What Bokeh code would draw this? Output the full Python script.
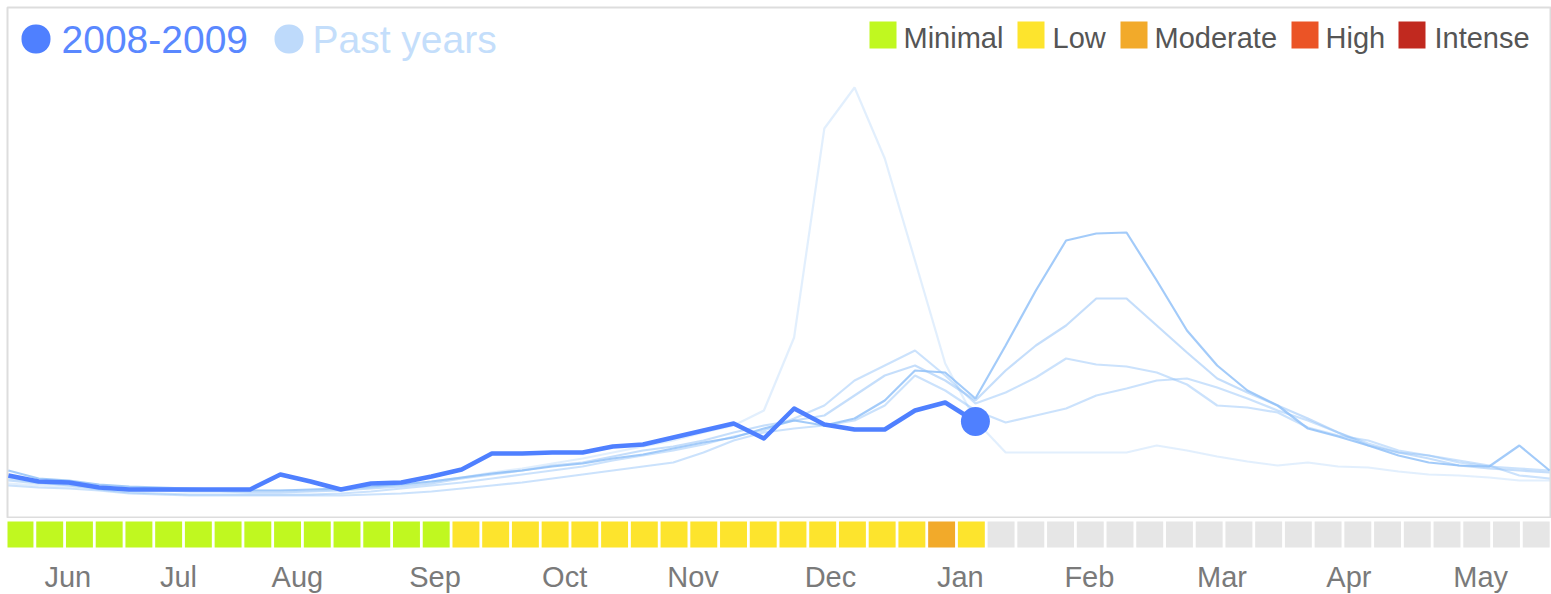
from bokeh.plotting import figure
from bokeh.models import Range1d, Label, BoxAnnotation
from bokeh.layouts import column
from bokeh.embed import file_html
from bokeh.resources import INLINE
from bokeh.core.properties import value

# ---------------- data ----------------
# weekly flu activity index (arbitrary units), week 0 = start of June
current_2008_09 = [4.2, 3.6, 3.5, 3.0, 2.8, 2.8, 2.8, 2.8, 2.8, 4.3, 3.6, 2.8, 3.4, 3.5, 4.1, 4.8,
                   6.4, 6.4, 6.5, 6.5, 7.1, 7.3, 8.0, 8.7, 9.4, 7.9, 10.9, 9.3, 8.8, 8.8, 10.7, 11.5, 9.6]

past_a = [4.7, 3.9, 3.7, 3.3, 3.1, 3.0, 2.9, 2.8, 2.7, 2.7, 2.8, 2.9, 3.1, 3.3, 3.6, 4.0, 4.4, 4.7,
          5.1, 5.4, 5.9, 6.3, 6.9, 7.5, 8.0, 8.9, 9.7, 9.2, 9.9, 11.7, 14.7, 14.5, 11.9, 17.2, 22.7,
          27.7, 28.4, 28.5, 23.7, 18.7, 15.2, 12.7, 11.2, 8.9, 8.1, 7.2, 6.2, 5.5, 5.2, 5.1, 7.2, 4.7]
past_b = [3.7, 3.4, 3.3, 3.0, 2.7, 2.7, 2.6, 2.6, 2.5, 2.5, 2.6, 2.7, 2.9, 3.1, 3.4, 3.9, 4.3, 4.7,
          5.2, 5.5, 6.1, 6.7, 7.1, 7.7, 8.5, 9.2, 9.7, 10.2, 12.2, 14.2, 15.2, 13.7, 11.7, 14.7, 17.2,
          19.2, 21.9, 21.9, 19.2, 16.5, 13.9, 12.5, 11.2, 9.9, 8.5, 7.2, 6.5, 5.9, 5.2, 4.9, 4.7, 4.5]
past_c = [3.9, 3.5, 3.2, 2.8, 2.5, 2.4, 2.3, 2.3, 2.3, 2.3, 2.3, 2.4, 2.6, 2.9, 3.2, 3.5, 3.9, 4.3,
          4.7, 5.1, 5.7, 6.2, 6.7, 7.3, 8.1, 8.7, 9.9, 11.2, 13.7, 15.2, 16.7, 14.2, 11.4, 12.5, 14.0,
          15.9, 15.3, 15.1, 14.5, 13.3, 11.2, 11.0, 10.5, 9.0, 8.2, 7.7, 6.7, 6.2, 5.5, 5.1, 4.9, 4.7]
past_d = [3.2, 3.0, 2.9, 2.7, 2.4, 2.3, 2.2, 2.2, 2.2, 2.2, 2.2, 2.2, 2.3, 2.4, 2.6, 2.9, 3.2, 3.5,
          3.9, 4.3, 4.7, 5.1, 5.5, 6.5, 7.7, 8.5, 8.9, 9.2, 9.7, 11.2, 14.2, 12.7, 10.7, 9.5, 10.2,
          10.9, 12.2, 12.9, 13.7, 13.9, 13.0, 11.9, 10.7, 9.7, 8.5, 7.4, 6.5, 6.2, 5.7, 5.2, 4.2, 3.9]
past_e = [3.4, 3.2, 3.1, 3.0, 2.9, 2.8, 2.7, 2.7, 2.7, 2.7, 2.7, 2.8, 3.0, 3.3, 3.6, 4.0, 4.5, 4.9,
          5.4, 5.9, 6.5, 7.1, 7.7, 8.5, 9.2, 10.7, 18.0, 38.9, 43.0, 35.9, 25.7, 15.4, 9.7, 6.5, 6.5,
          6.5, 6.5, 6.5, 7.2, 6.7, 6.1, 5.6, 5.2, 5.5, 5.1, 5.0, 4.6, 4.3, 4.2, 4.0, 3.7, 3.7]
past_years = [past_e, past_d, past_c, past_b, past_a]
past_alpha = [0.25, 0.45, 0.45, 0.5, 0.8]

week_levels = (["Minimal"] * 15 + ["Low"] * 16 + ["Moderate"] + ["Low"] + ["None"] * 19)

level_names = ["Minimal", "Low", "Moderate", "High", "Intense"]
level_colors = ["#c0f820", "#fde42d", "#f2aa2a", "#eb5426", "#c1291f"]
no_data_color = "#e6e6e6"

month_labels = ["Jun", "Jul", "Aug", "Sep", "Oct", "Nov", "Dec", "Jan", "Feb", "Mar", "Apr", "May"]
month_weeks = [2.11, 5.83, 9.83, 14.46, 18.82, 23.14, 27.76, 32.13, 36.47, 40.93, 45.20, 49.63]

FONT = "Liberation Sans"
CUR = "#4f80ff"
PAST = "#8cbef8"

# ---------------- line chart ----------------
n_weeks = len(past_a)
weeks = list(range(n_weeks))

p = figure(width=1551, height=518, x_range=Range1d(-0.03, n_weeks - 1 + 0.03),
           y_range=Range1d(0, 51),
           output_backend="svg", toolbar_location=None,
           x_axis_location=None, y_axis_location=None,
           min_border_left=7, min_border_right=1, min_border_top=7, min_border_bottom=1)
p.grid.visible = False
p.outline_line_color = "#dddddd"
p.outline_line_width = 2
p.outline_line_alpha = 1.0

for series, a in zip(past_years, past_alpha):
    p.line(weeks, series, line_color=PAST, line_alpha=a, line_width=2.2)

p.line(weeks[:len(current_2008_09)], current_2008_09, line_color=CUR, line_width=4.5,
       line_join="round")
p.scatter([weeks[len(current_2008_09) - 1]], [current_2008_09[-1]], size=29,
          fill_color=CUR, line_color=None)

# legend (top left)
def dot(cx, cy, r, color):
    return BoxAnnotation(left=cx - r, right=cx + r, bottom=cy - r, top=cy + r,
                         left_units="screen", right_units="screen",
                         top_units="screen", bottom_units="screen",
                         fill_color=color, fill_alpha=1.0, line_color=None,
                         border_radius=int(round(r)))

p.add_layout(dot(28.5, 478.5, 14.5, CUR))
p.add_layout(dot(281.5, 478.5, 14.5, "#bedafb"))
p.add_layout(Label(x=54, y=478, x_units="screen", y_units="screen", text="2008-2009",
                   text_font=FONT, text_font_size="39px", text_color="#5a88ff",
                   text_baseline="middle"))
p.add_layout(Label(x=305, y=478, x_units="screen", y_units="screen", text="Past years",
                   text_font=FONT, text_font_size="39px", text_color="#c4defb",
                   text_baseline="middle"))

# legend (top right)
sq_left = [862, 1010, 1113, 1284, 1391]
txt_left = [896, 1045, 1147, 1318, 1427]
for name, col, sl, tl in zip(level_names, level_colors, sq_left, txt_left):
    p.add_layout(BoxAnnotation(left=sl, right=sl + 27, bottom=469, top=496,
                               left_units="screen", right_units="screen",
                               top_units="screen", bottom_units="screen",
                               fill_color=col, fill_alpha=1.0, line_color=None))
    p.add_layout(Label(x=tl, y=479.5, x_units="screen", y_units="screen", text=name,
                       text_font=FONT, text_font_size="29px", text_color="#555555",
                       text_baseline="middle"))

# ---------------- activity strip + months ----------------
p2 = figure(width=1551, height=76, x_range=Range1d(0.08, 0.08 + 1543 / 29.73),
            y_range=Range1d(0, 76),
            output_backend="svg", toolbar_location=None,
            x_axis_location=None, y_axis_location=None,
            min_border_left=7, min_border_right=1, min_border_top=0, min_border_bottom=0)
p2.grid.visible = False
p2.outline_line_color = None

cmap = dict(zip(level_names, level_colors))
strip_colors = [cmap.get(l, no_data_color) for l in week_levels]
p2.rect(x=[k + 0.5 for k in range(len(week_levels))], y=60, width=0.906, height=26,
        fill_color=strip_colors, line_color=None)

p2.text(x=month_weeks, y=17.5, text=month_labels, text_align="center", text_baseline="middle",
        text_font=value(FONT), text_font_size="29px", text_color="#7a7a7a")

layout = column(p, p2, spacing=0)
open("out.html", "w").write(file_html(layout, INLINE, title="Flu activity"))
